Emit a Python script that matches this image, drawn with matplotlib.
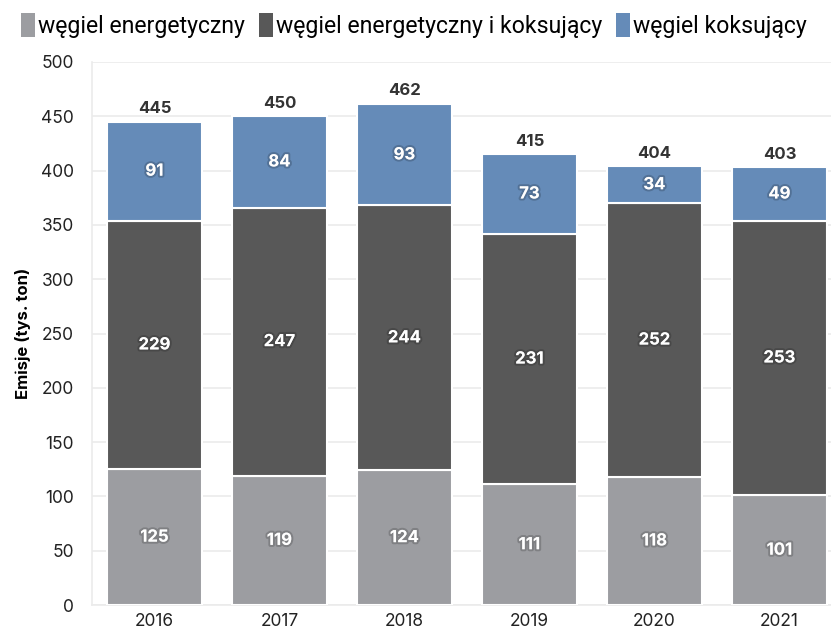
import matplotlib
matplotlib.use('Agg')
import matplotlib.pyplot as plt
import matplotlib.patheffects as pe
import numpy as np

# dane
years = ['2016', '2017', '2018', '2019', '2020', '2021']
energ = [125, 119, 124, 111, 118, 101]
energ_koks = [229, 247, 244, 231, 252, 253]
koks = [91, 84, 93, 73, 34, 49]
totals = [445, 450, 462, 415, 404, 403]

series_names = ['węgiel energetyczny', 'węgiel energetyczny i koksujący', 'węgiel koksujący']
colors = ['#9c9da1', '#585858', '#658bb8']

plt.rcParams['font.family'] = ['Inter', 'DejaVu Sans']

fig = plt.figure(figsize=(8.31, 6.33), dpi=100)
ax = fig.add_axes([92 / 831, 1 - 605 / 633, 750 / 831, 543 / 633])

x = np.arange(len(years))
width = 0.76
bottom = np.zeros(len(years))
shadow = [pe.withStroke(linewidth=3, foreground=(0, 0, 0, 0.18))]
for vals, col, name in zip([energ, energ_koks, koks], colors, series_names):
    bars = ax.bar(x, vals, width, bottom=bottom, color=col, edgecolor='white',
                  linewidth=1.5, label=name, zorder=3)
    for b, v, bt in zip(bars, vals, bottom):
        ax.text(b.get_x() + b.get_width() / 2, bt + v / 2, str(v),
                ha='center', va='center', color='white', fontsize=12,
                fontweight='bold', path_effects=shadow, zorder=5)
    bottom = bottom + np.array(vals)

# sumy nad słupkami
for xi, t in zip(x, totals):
    ax.text(xi, t + 5, str(t), ha='center', va='bottom', fontsize=12,
            fontweight='bold', color='#333333', zorder=5)

ax.set_xlim(-0.5, len(years) - 0.5)
ax.set_ylim(0, 500)
ax.set_yticks(range(0, 501, 50))
ax.set_xticks(x)
ax.set_xticklabels(years)
ax.tick_params(axis='both', length=0, labelsize=12.5, colors='#222222')
ax.tick_params(axis='y', pad=13)
ax.tick_params(axis='x', pad=6)
ax.yaxis.grid(True, color='#ebebeb', linewidth=1.2, zorder=0)
for s in ['top', 'right']:
    ax.spines[s].set_visible(False)
ax.spines['left'].set_color('#ebebeb')
ax.spines['bottom'].set_color('#ebebeb')
ax.spines['left'].set_linewidth(1.2)
ax.spines['bottom'].set_linewidth(1.2)
ax.set_ylabel('Emisje (tys. ton)', fontsize=12, fontweight='bold')
ax.yaxis.set_label_coords(-0.082, 0.5)

leg = fig.legend(loc='upper left', bbox_to_anchor=(0.0, 1.012), ncol=3, frameon=False,
                 handlelength=0.6, handleheight=1.2, handletextpad=0.15,
                 columnspacing=0.6, prop={'family': ['Roboto', 'DejaVu Sans'], 'size': 16.6})
for h in leg.legend_handles:
    h.set_edgecolor('none')

fig.savefig('out.png', dpi=100)
